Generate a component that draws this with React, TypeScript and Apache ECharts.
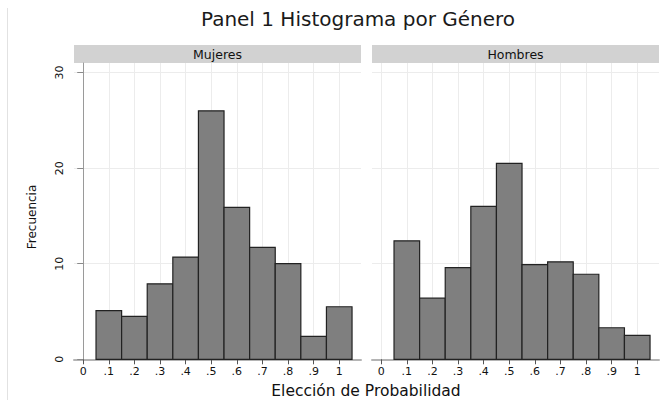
import React, { useEffect, useRef } from "react";
import * as echarts from "echarts";

const binCenters = [0.1, 0.2, 0.3, 0.4, 0.5, 0.6, 0.7, 0.8, 0.9, 1.0];
const mujeres = [5.1, 4.5, 7.9, 10.7, 26.0, 15.9, 11.7, 10.0, 2.4, 5.5];
const hombres = [12.4, 6.4, 9.6, 16.0, 20.5, 9.9, 10.2, 8.9, 3.3, 2.5];
const xTickValues = [0, 0.1, 0.2, 0.3, 0.4, 0.5, 0.6, 0.7, 0.8, 0.9, 1];
const xTickLabels = ["0", ".1", ".2", ".3", ".4", ".5", ".6", ".7", ".8", ".9", "1"];
const yTickValues = [0, 10, 20, 30];
const panelNames = ["Mujeres", "Hombres"];
const titleText = "Panel 1 Histograma por Género";
const xName = "Elección de Probabilidad";
const yName = "Frecuencia";

const FONT = "'DejaVu Sans', 'Liberation Sans', Arial, sans-serif";
const GRID_TOP = 63;
const GRID_H = 296.3;
const GRID_W = 287;
const LEFTS = [74, 372];
const BIN_W = 0.1;

export default function App() {
  const ref = useRef<HTMLDivElement>(null);
  useEffect(() => {
    if (!ref.current) return;
    const chart = echarts.init(ref.current, undefined, { renderer: "svg" });
    const seriesData = [mujeres, hombres];

    const renderItem = (params: any, api: any) => {
      const x = api.value(0);
      const y = api.value(1);
      const p0 = api.coord([x - BIN_W / 2, y]);
      const p1 = api.coord([x + BIN_W / 2, 0]);
      return {
        type: "rect",
        shape: { x: p0[0], y: p0[1], width: p1[0] - p0[0], height: p1[1] - p0[1] },
        style: { fill: "#7f7f7f", stroke: "#222222", lineWidth: 1.2 },
      };
    };

    const option: any = {
      animation: false,
      backgroundColor: "#ffffff",
      textStyle: { fontFamily: FONT },
      grid: LEFTS.map((l) => ({ left: l, top: GRID_TOP, width: GRID_W, height: GRID_H })),
      xAxis: LEFTS.map((_, i) => ({
        type: "value",
        gridIndex: i,
        min: -0.036,
        max: 1.085,
        axisLine: { show: true, onZero: false, lineStyle: { color: "#b4b4b4", width: 2 } },
        axisTick: { show: true, customValues: xTickValues, length: 5, lineStyle: { color: "#555555" } },
        axisLabel: {
          customValues: xTickValues,
          formatter: (v: number) => xTickLabels[Math.round(v * 10)],
          fontSize: 11,
          color: "#111111",
          margin: 7,
          fontFamily: FONT,
        },
        splitLine: { show: true, lineStyle: { color: "#ececec", width: 1 } },
      })),
      yAxis: LEFTS.map((_, i) => ({
        type: "value",
        gridIndex: i,
        min: 0,
        max: 31,
        axisLine: { show: i === 0, lineStyle: { color: "#9a9a9a", width: 1 } },
        axisTick: { show: i === 0, customValues: yTickValues, length: 6, lineStyle: { color: "#8a8a8a" } },
        axisLabel: {
          show: i === 0,
          customValues: yTickValues,
          rotate: 90,
          fontSize: 11,
          color: "#111111",
          margin: 9,
          fontFamily: FONT,
        },
        splitLine: { show: true, lineStyle: { color: "#ececec", width: 1 } },
      })),
      series: seriesData.map((vals, i) => ({
        type: "custom",
        xAxisIndex: i,
        yAxisIndex: i,
        renderItem,
        encode: { x: 0, y: 1 },
        data: binCenters.map((b, j) => [b, vals[j]]),
        z: 3,
      })),
      graphic: [
        {
          type: "line",
          shape: { x1: 7.5, y1: 8, x2: 7.5, y2: 400 },
          style: { stroke: "#e2e2e2", lineWidth: 1 },
          silent: true,
        },
        ...LEFTS.map((l) => ({
          type: "rect",
          shape: { x: l, y: 45, width: GRID_W, height: 18 },
          style: { fill: "#d2d2d2" },
          silent: true,
        })),
        ...LEFTS.map((l, i) => ({
          type: "text",
          x: l + GRID_W / 2,
          y: 54,
          style: {
            text: panelNames[i],
            fill: "#111111",
            fontSize: 12.5,
            fontFamily: FONT,
            align: "center",
            verticalAlign: "middle",
          },
          silent: true,
        })),
        {
          type: "text",
          x: 358,
          y: 19,
          style: {
            text: titleText,
            fill: "#1a1a1a",
            fontSize: 20,
            fontFamily: FONT,
            align: "center",
            verticalAlign: "middle",
          },
        },
        {
          type: "text",
          x: 366,
          y: 391,
          style: {
            text: xName,
            fill: "#111111",
            fontSize: 15.5,
            fontFamily: FONT,
            align: "center",
            verticalAlign: "middle",
          },
        },
        {
          type: "text",
          x: 32,
          y: 217,
          rotation: Math.PI / 2,
          style: {
            text: yName,
            fill: "#111111",
            fontSize: 12,
            fontFamily: FONT,
            align: "center",
            verticalAlign: "middle",
          },
        },
      ],
    };
    chart.setOption(option);
    return () => chart.dispose();
  }, []);

  return (
    <div
      ref={ref}
      style={{ position: "fixed", left: 0, top: 0, width: 672, height: 400, background: "#ffffff" }}
    />
  );
}
